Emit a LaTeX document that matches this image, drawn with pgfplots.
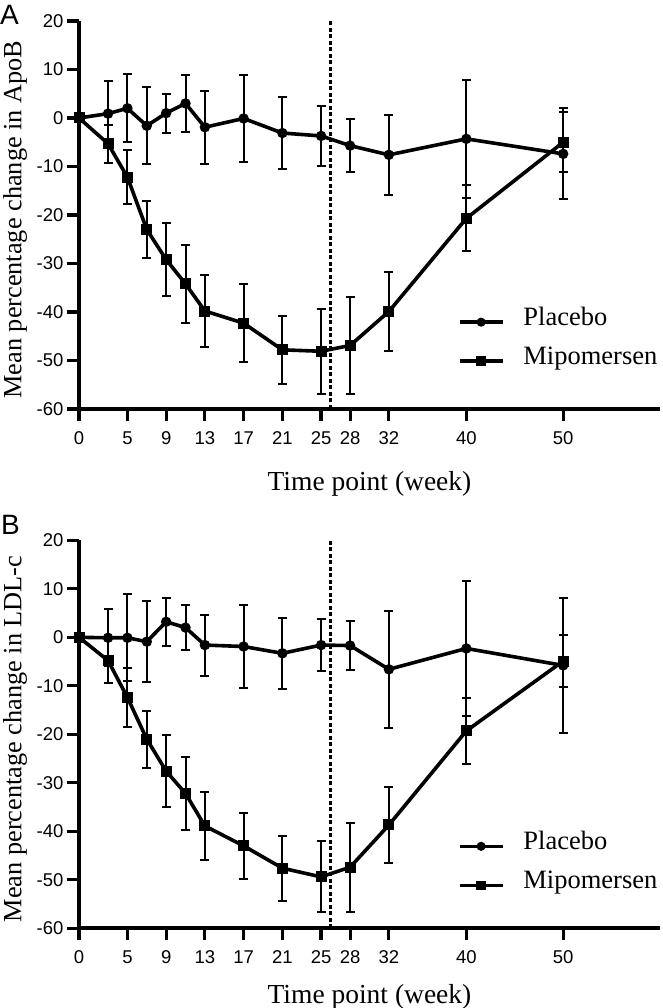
\documentclass[border=0pt]{standalone}
\usepackage{fontspec}
\setmainfont{Liberation Serif}
\setsansfont{Liberation Sans}
\usepackage{pgfplots}
\usepackage{pgfplotstable}
\pgfplotsset{compat=1.18}

\pgfplotstableread{
x y e
0 0 0
3 0.9 6.8
5 2.0 7.0
7 -1.6 7.9
9 1.0 4.0
11 3.0 5.9
13 -1.9 7.5
17 -0.1 9.0
21 -3.1 7.4
25 -3.7 6.1
28 -5.7 5.4
32 -7.6 8.3
40 -4.3 12.1
50 -7.4 9.4
}\placeboA
\pgfplotstableread{
x y e
0 0 0
3 -5.3 3.9
5 -12.2 5.6
7 -23.0 5.9
9 -29.2 7.6
11 -34.2 8.0
13 -39.8 7.4
17 -42.3 8.0
21 -47.8 7.0
25 -48.1 8.8
28 -46.9 10.0
32 -39.9 8.1
40 -20.7 6.8
50 -5.0 6.2
}\mipoA
\pgfplotstableread{
x y e
0 0 0
3 -0.1 5.9
5 -0.1 9.0
7 -0.9 8.4
9 3.2 5.0
11 2.0 4.7
13 -1.6 6.3
17 -1.9 8.6
21 -3.3 7.3
25 -1.6 5.4
28 -1.7 5.0
32 -6.6 12.0
40 -2.3 14.0
50 -5.8 14.0
}\placeboB
\pgfplotstableread{
x y e
0 0 0
3 -4.8 4.7
5 -12.4 6.0
7 -21.0 5.9
9 -27.6 7.4
11 -32.2 7.6
13 -38.9 7.1
17 -43.0 6.8
21 -47.6 6.7
25 -49.4 7.3
28 -47.4 9.2
32 -38.7 7.8
40 -19.3 6.8
50 -4.9 5.4
}\mipoB
\pgfplotstableread{
x y
26 -60
26 20
}\dashdata

\pgfplotsset{
  panel/.style={
    scale only axis, width=581pt, height=388pt,
    xmin=0, xmax=60, ymin=-60, ymax=20,
    axis lines*=left,
    axis line style={line width=3.6pt},
    xtick={0,5,9,13,17,21,25,28,32,40,50},
    ytick={-60,-50,-40,-30,-20,-10,0,10,20},
    tick align=outside, major tick length=12pt,
    every tick/.style={black, line width=3.2pt},
    tick label style={font=\sffamily\fontsize{18.5}{20}\selectfont},
    xticklabel style={yshift=-7pt},
    /pgf/number format/assume math mode=true,
    clip=false,
    legend cell align=left,
    legend image code/.code={
      \draw[##1, line width=3.6pt, mark options={scale=0.8}, mark repeat=2, mark phase=2, yshift=0.3em]
        plot coordinates {(0pt,0pt) (21.5pt,0pt) (43pt,0pt)};
    },
    legend style={draw=none, fill=none, inner sep=0pt,
      font=\fontsize{26.5}{30}\selectfont,
      nodes={inner sep=0pt, anchor=base west},
      column sep=19pt, row sep=20pt},
  },
  ser/.style={black, line width=3.6pt,
    error bars/.cd, y dir=both, y explicit,
    error bar style={line width=2pt, solid},
    error mark options={rotate=90, mark size=4.5pt, line width=2pt}},
}

\begin{document}
\begin{tikzpicture}
\useasboundingbox (0,0) rectangle (662pt,1008pt);
% Panel A
\begin{axis}[panel, at={(79pt,599pt)}, anchor=south west,
  xlabel={Time point (week)}, ylabel={Mean percentage change in ApoB},
  every axis x label/.style={at={(axis description cs:0.5,-0.192)}, anchor=center, font=\fontsize{27.5}{30}\selectfont},
  every axis y label/.style={at={(axis description cs:-0.110,0.488)}, rotate=90, anchor=center, font=\fontsize{26.3}{30}\selectfont},
  legend style={at={(axis cs:39.1,-45.0)}, anchor=west}]
\addplot[black, line width=3pt, dash pattern=on 4pt off 2.5pt, forget plot] table[x=x,y=y] {\dashdata};
\addplot[mark=*, mark size=3.3pt, ser] table[x=x,y=y,y error=e] {\placeboA};
\addlegendentry{Placebo}
\addplot[mark=square*, mark size=3.7pt, ser] table[x=x,y=y,y error=e] {\mipoA};
\addlegendentry{Mipomersen}
\end{axis}
% Panel B
\begin{axis}[panel, at={(79pt,79.7pt)}, anchor=south west,
  xlabel={Time point (week)}, ylabel={Mean percentage change in LDL-c},
  every axis x label/.style={at={(axis description cs:0.5,-0.176)}, anchor=center, font=\fontsize{27.5}{30}\selectfont},
  every axis y label/.style={at={(axis description cs:-0.110,0.488)}, rotate=90, anchor=center, font=\fontsize{26.3}{30}\selectfont},
  legend style={at={(axis cs:39.1,-46.0)}, anchor=west}]
\addplot[black, line width=3pt, dash pattern=on 4pt off 2.5pt, forget plot] table[x=x,y=y] {\dashdata};
\addplot[mark=*, mark size=3.3pt, ser] table[x=x,y=y,y error=e] {\placeboB};
\addlegendentry{Placebo}
\addplot[mark=square*, mark size=3.7pt, ser] table[x=x,y=y,y error=e] {\mipoB};
\addlegendentry{Mipomersen}
\end{axis}
\node[anchor=north west, inner sep=0pt, font=\sffamily\fontsize{28}{30}\selectfont] at (0pt,1003pt) {A};
\node[anchor=north west, inner sep=0pt, font=\sffamily\fontsize{28}{30}\selectfont] at (1pt,493pt) {B};
\end{tikzpicture}
\end{document}
